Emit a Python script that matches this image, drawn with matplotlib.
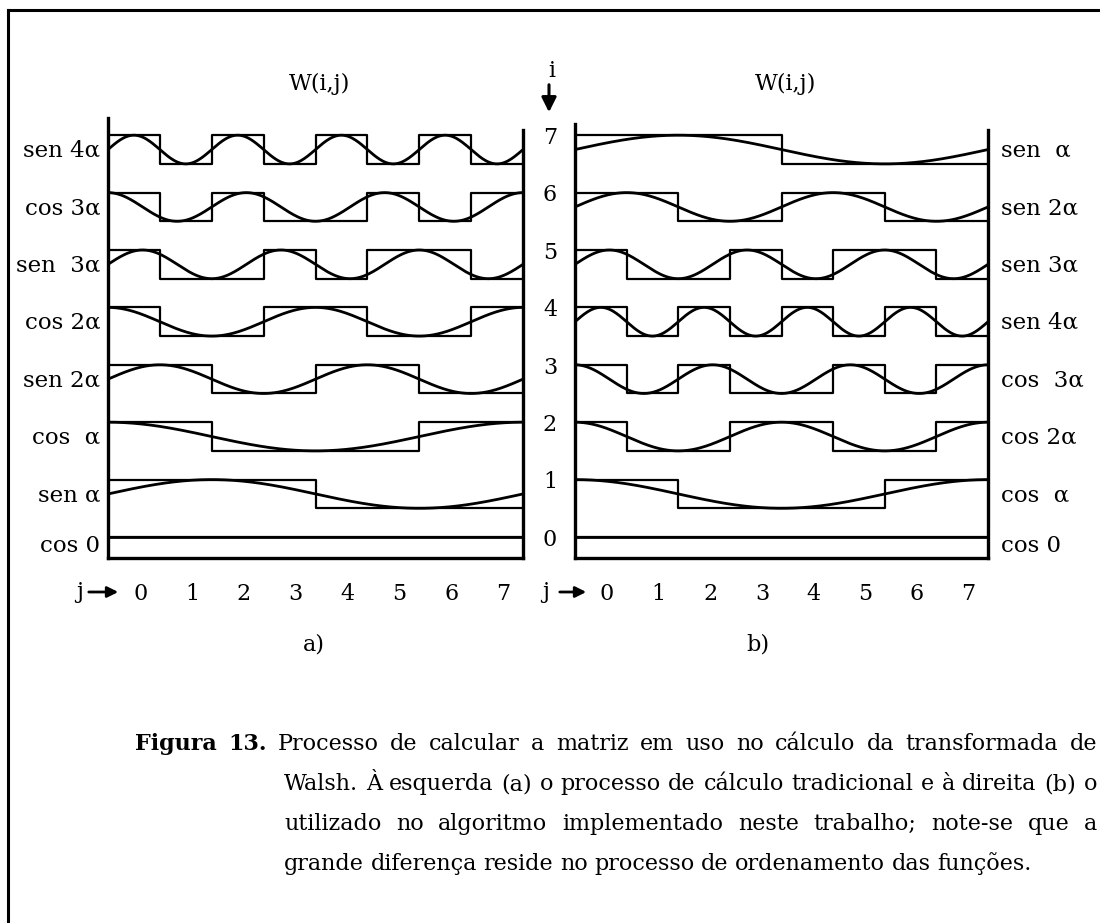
import numpy as np
import matplotlib.pyplot as plt
import matplotlib.transforms as mtransforms
from matplotlib.lines import Line2D

W, H = 1100, 923

# rows i = 0 (bottom) .. 7 (top); sign of W(i,j) for j = 0..7
labels_a = ['cos 0', 'sen α', 'cos  α', 'sen 2α', 'cos 2α', 'sen  3α', 'cos 3α', 'sen 4α']
kind_a = ['cos', 'sen', 'cos', 'sen', 'cos', 'sen', 'cos', 'sen']
freq_a = [0, 1, 1, 2, 2, 3, 3, 4]
signs_a = [
    [1, 1, 1, 1, 1, 1, 1, 1],
    [1, 1, 1, 1, -1, -1, -1, -1],
    [1, 1, -1, -1, -1, -1, 1, 1],
    [1, 1, -1, -1, 1, 1, -1, -1],
    [1, -1, -1, 1, 1, -1, -1, 1],
    [1, -1, -1, 1, -1, 1, 1, -1],
    [1, -1, 1, -1, -1, 1, -1, 1],
    [1, -1, 1, -1, 1, -1, 1, -1],
]

labels_b = ['cos 0', 'cos  α', 'cos 2α', 'cos  3α', 'sen 4α', 'sen 3α', 'sen 2α', 'sen  α']
kind_b = ['cos', 'cos', 'cos', 'cos', 'sen', 'sen', 'sen', 'sen']
freq_b = [0, 1, 2, 3, 4, 3, 2, 1]
signs_b = [
    [1, 1, 1, 1, 1, 1, 1, 1],
    [1, 1, -1, -1, -1, -1, 1, 1],
    [1, -1, -1, 1, 1, -1, -1, 1],
    [1, -1, 1, -1, -1, 1, -1, 1],
    [1, -1, 1, -1, 1, -1, 1, -1],
    [1, -1, -1, 1, -1, 1, 1, -1],
    [1, 1, -1, -1, 1, 1, -1, -1],
    [1, 1, 1, 1, -1, -1, -1, -1],
]

j_ticks = ['0', '1', '2', '3', '4', '5', '6', '7']

caption = [
    'Figura 13. Processo de calcular a matriz em uso no cálculo da transformada de',
    'Walsh. À esquerda (a) o processo de cálculo tradicional e à direita (b) o',
    'utilizado no algoritmo implementado neste trabalho; note-se que a',
    'grande diferença reside no processo de ordenamento das funções.',
]

serif = ['DejaVu Serif', 'DejaVu Sans']
plt.rcParams['font.family'] = serif
fs = 16.5

fig = plt.figure(figsize=(W / 100, H / 100), dpi=100)

# page frame (top and left edge of the scanned box)
fig.add_artist(Line2D([8 / W, 1], [1 - 10 / H, 1 - 10 / H], color='k', lw=2.2))
fig.add_artist(Line2D([8 / W, 8 / W], [0, 1 - 10 / H], color='k', lw=2.2))

y0, y1 = -0.366, 7.3
top_px, row_px = 537, 57.4


def panel(x_left, x_right, labels, kind, freq, signs, side):
    ax = fig.add_axes([x_left / W, 1 - 558 / H, (x_right - x_left) / W,
                       (558 - (top_px - row_px * y1)) / H])
    ax.set_xlim(0, 8)
    ax.set_ylim(y0, y1)
    ax.patch.set_alpha(0)
    alpha = np.linspace(0, 2 * np.pi, 400)
    xs = alpha / (2 * np.pi) * 8
    for i in range(8):
        lev = [i if s > 0 else i - 0.5 for s in signs[i]]
        ax.step(np.arange(9), lev + [lev[-1]], where='post', color='k', lw=1.6)
        f = np.sin if kind[i] == 'sen' else np.cos
        ax.plot(xs, i - 0.25 + 0.25 * f(freq[i] * alpha), color='k', lw=2.0)
        ly = i - 0.27 if i > 0 else -0.15
        if side == 'left':
            ax.text(-0.15, ly, labels[i], ha='right', va='center', fontsize=fs)
        else:
            ax.text(8.25, ly, labels[i], ha='left', va='center', fontsize=fs)
    ax.spines['top'].set_visible(False)
    for s in ['left', 'right', 'bottom']:
        ax.spines[s].set_linewidth(2.4)
    ax.spines['left'].set_bounds(y0, 7.3 if side == 'left' else 7.2)
    ax.spines['right'].set_bounds(y0, 7.09)
    ax.set_yticks([])
    ax.set_xticks(np.arange(8) + 0.62, j_ticks, fontsize=16)
    ax.tick_params(axis='x', length=0, pad=18)
    ax.text(4.07, 7.9, 'W(i,j)', ha='center', va='center', fontsize=16)
    return ax


ax_a = panel(108, 523, labels_a, kind_a, freq_a, signs_a, 'left')
ax_b = panel(575, 988, labels_b, kind_b, freq_b, signs_b, 'right')

# index i in the middle column
tr = mtransforms.blended_transform_factory(fig.transFigure, ax_a.transData)
for i in range(8):
    ax_a.text(550 / W, i - 0.05, str(i), transform=tr, ha='center', va='center',
              fontsize=16, clip_on=False)
fig.text(552 / W, 1 - 71 / H, 'i', ha='center', va='center', fontsize=16)
fig.add_artist(plt.Annotation('', xy=(549, H - 115), xytext=(549, H - 82),
                              xycoords='figure pixels', textcoords='figure pixels',
                              arrowprops=dict(arrowstyle='-|>', lw=2.2, color='k',
                                              mutation_scale=22)))

# j -> arrows
for xj, xa0, xa1 in [(80, 86, 121), (546, 557, 589)]:
    fig.text(xj / W, 1 - 592 / H, 'j', ha='center', va='center', fontsize=16)
    fig.add_artist(plt.Annotation('', xy=(xa1, H - 592), xytext=(xa0, H - 592),
                                  xycoords='figure pixels', textcoords='figure pixels',
                                  arrowprops=dict(arrowstyle='-|>', lw=2.0, color='k',
                                                  mutation_scale=16)))

fig.text(314 / W, 1 - 645 / H, 'a)', ha='center', va='center', fontsize=16)
fig.text(758 / W, 1 - 645 / H, 'b)', ha='center', va='center', fontsize=16)

# justified caption
renderer = fig.canvas.get_renderer()
cap_fs = 16
cap_left = [135, 284, 284, 284]
cap_right = 1097
cap_y = [744, 784, 824, 864]
for k, line in enumerate(caption):
    words = line.split(' ')
    arts = []
    for n, w in enumerate(words):
        bold = (k == 0 and n < 2)
        arts.append(fig.text(0, 1 - cap_y[k] / H, w, ha='left', va='center',
                             fontsize=cap_fs, fontweight='bold' if bold else 'normal'))
    widths = [a.get_window_extent(renderer).width for a in arts]
    if k < len(caption) - 1:
        gap = (cap_right - cap_left[k] - sum(widths)) / (len(words) - 1)
    else:
        gap = 0.3 * cap_fs * 100 / 72
    x = cap_left[k]
    for a, wd in zip(arts, widths):
        a.set_x(x / W)
        x += wd + gap

fig.savefig('out.png', dpi=100)
